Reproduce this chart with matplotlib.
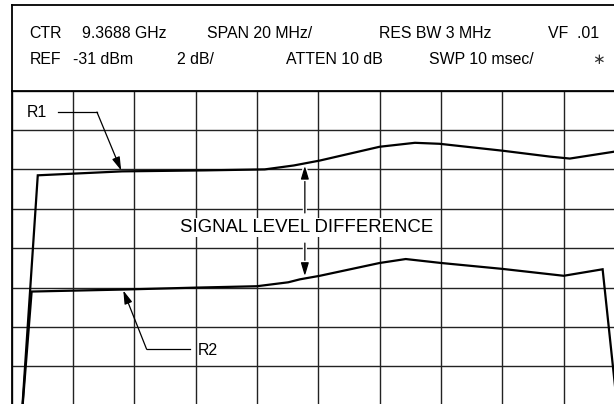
import numpy as np
import matplotlib
matplotlib.use("Agg")
import matplotlib.pyplot as plt
from matplotlib.lines import Line2D
import matplotlib.patheffects as pe

plt.rcParams['font.family'] = ['Liberation Sans', 'DejaVu Sans']

# spectrum analyser settings (header)
row1 = ["CTR", "9.3688 GHz", "SPAN 20 MHz/", "RES BW 3 MHz", "VF  .01"]
row2 = ["REF", "-31 dBm", "2 dB/", "ATTEN 10 dB", "SWP 10 msec/", "\u2217"]

# traces: frequency offset from centre (MHz) vs level (dBm)
freq1 = [-96.8, -91.5, -64, -37, -17.5, -8, 0.5, 20, 31.5, 39.5, 60, 75.5, 82, 96.5, 100]
lvl1 = [-47.7, -35.3, -35.1, -35.05, -35.0, -34.8, -34.55, -33.85, -33.65, -33.7,
        -34.05, -34.35, -34.45, -34.1, -34.0]
freq2 = [-96.8, -93.5, -64, -39.7, -20, -9.8, -6, 0.5, 20, 28.5, 40, 60, 80, 92.7, 97.9]
lvl2 = [-47.7, -41.2, -41.1, -41.0, -40.93, -40.73, -40.58, -40.4, -39.75, -39.55,
        -39.75, -40.05, -40.4, -40.07, -47.7]

ref_level = -31
db_div = 2
mhz_div = 20

W, H = 614, 404
fig = plt.figure(figsize=(W / 100, H / 100), dpi=100)

def fx(px):
    return px / W

def fy(py):
    return 1 - py / H

# graticule (10 x 8 divisions), partly cropped by the figure edge
ax = fig.add_axes([fx(11.7), fy(405.8), (625 - 11.7) / W, (405.8 - 90.6) / H])
ax.set_xlim(-5 * mhz_div, 5 * mhz_div)
ax.set_ylim(ref_level - 8 * db_div, ref_level)
ax.set_xticks(np.arange(-5, 6) * mhz_div)
ax.set_yticks(ref_level - np.arange(9) * db_div)
ax.tick_params(length=0, labelbottom=False, labelleft=False)
ax.grid(True, color='#222222', lw=1.0)
for s in ax.spines.values():
    s.set_linewidth(1.3)
    s.set_color('black')

ax.plot(freq1, lvl1, color='black', lw=1.6, solid_joinstyle='miter')
ax.plot(freq2, lvl2, color='black', lw=1.6, solid_joinstyle='miter')

# header box
fig.add_artist(Line2D([fx(11.7), 1], [fy(5), fy(5)], color='black', lw=1.3))
fig.add_artist(Line2D([fx(11.7), fx(11.7)], [fy(5), fy(90.6)], color='black', lw=1.3))

x_row1 = [29.3, 81.7, 207.3, 379, 548.3]
x_row2 = [29.3, 73.3, 176.7, 286, 429.3, 598]
for t, x in zip(row1, x_row1):
    fig.text(fx(x), fy(33.5), t, fontsize=11.4, ha='left', va='center')
for t, x in zip(row2[:-1], x_row2[:-1]):
    fig.text(fx(x), fy(60), t, fontsize=11.4, ha='left', va='center')
fig.text(fx(x_row2[-1]), fy(60), row2[-1], fontsize=11, ha='center', va='center',
         color='#333333', family=['DejaVu Sans'])

arrow = dict(arrowstyle='-|>,head_length=0.8,head_width=0.24', mutation_scale=10,
             color='black', lw=0.9, shrinkA=0, shrinkB=0)
halo = [pe.withStroke(linewidth=3, foreground='white')]

# R1 leader
tip1 = -64.3
ax.text(-91.7, -32.1, "R1", fontsize=11.4, ha='center', va='center')
ax.plot([-84.9, -72.2], [-32.09, -32.09], color='black', lw=0.9)
ax.annotate("", xy=(tip1, np.interp(tip1, freq1, lvl1) + 0.05), xytext=(-72.2, -32.09),
            arrowprops=arrow)

# R2 leader
tip2 = -63.6
ax.text(-36.2, -44.17, "R2", fontsize=11.4, ha='center', va='center')
ax.plot([-56.0, -41.9], [-44.13, -44.13], color='black', lw=0.9)
ax.annotate("", xy=(tip2, np.interp(tip2, freq2, lvl2) - 0.05), xytext=(-56.0, -44.13),
            arrowprops=arrow)

# signal level difference
xd = -4.4
ax.text(-3.9, -37.94, "SIGNAL LEVEL DIFFERENCE", fontsize=13.4, ha='center', va='center',
        bbox=dict(facecolor='white', edgecolor='none', pad=1.0))
a1 = ax.annotate("", xy=(xd, np.interp(xd, freq1, lvl1) - 0.12), xytext=(xd, -37.21),
                 arrowprops=arrow)
a2 = ax.annotate("", xy=(xd, np.interp(xd, freq2, lvl2) + 0.12), xytext=(xd, -38.74),
                 arrowprops=arrow)
for a in (a1, a2):
    a.arrow_patch.set_path_effects(halo)

fig.savefig("out.png", dpi=100)
